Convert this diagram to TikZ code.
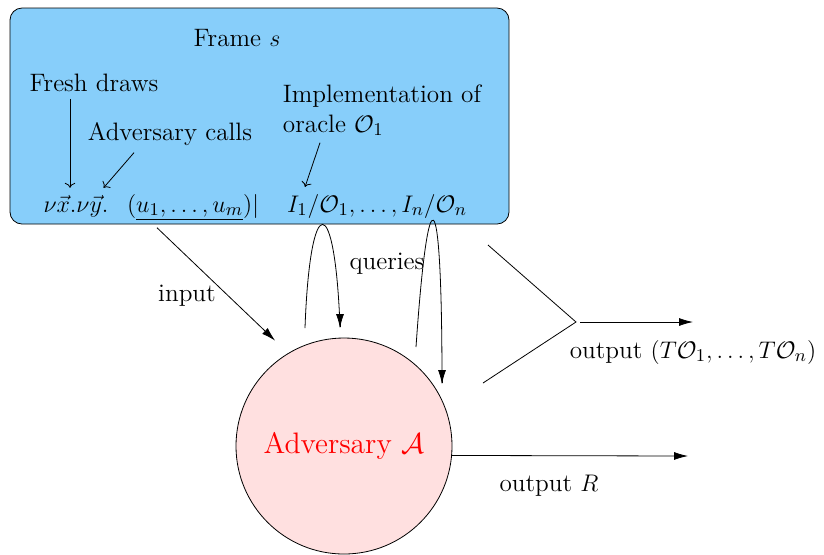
\documentclass[tikz,border=0pt]{standalone}
\usetikzlibrary{arrows.meta}
\definecolor{frameblue}{RGB}{135,206,250}
\definecolor{advpink}{RGB}{255,224,224}
\begin{document}
\begin{tikzpicture}[x=0.5pt,y=-0.5pt,font=\fontsize{12.6}{15}\selectfont,
  outarrow/.style={-{Latex[length=7pt,width=4pt]}},
  pointer/.style={->}]
\useasboundingbox (0,0) rectangle (824,554);
\draw[fill=frameblue,rounded corners=6pt] (10,8) rectangle (509,224);
\node[draw,circle,fill=advpink,minimum size=108pt,inner sep=0pt,text=red,font=\fontsize{14.8}{18}\selectfont] (adv) at (344,446) {Adversary $\mathcal{A}$};

\node (frame) at (237,38) {Frame $s$};
\node (fresh) at (94,83) {Fresh draws};
\node (calls) at (170,134) {Adversary calls};
\node[align=left] (impl) at (382,110) {Implementation of\\[0pt]oracle $\mathcal{O}_1$};

\node[anchor=base] (nu) at (76,212) {$\nu\vec{x}.\nu\vec{y}.$};
\node[anchor=base] (args) at (193,212) {$(\underline{u_1,\ldots,u_m})|$};
\node[anchor=base] (oracles) at (377,212) {$I_1/\mathcal{O}_1,\ldots,I_n/\mathcal{O}_n$};

\draw[pointer] ([xshift=-12pt]fresh.south) -- ([xshift=-3pt]nu.north);
\draw[pointer] ([xshift=-18pt]calls.south) -- ([xshift=-6pt]nu.north east);
\draw[pointer] ([xshift=-31pt]impl.south) -- ([xshift=-36pt]oracles.north);

\draw[outarrow,shorten >=9pt] ([xshift=-18pt]args.south) -- (adv.121);
\node (input) at (187,296) {input};

\coordinate (q1in) at (305,328);
\coordinate (q1out) at (340,327);
\coordinate (qnin) at (416,347);
\coordinate (qnout) at (442,383);
\draw (q1in) .. controls (310,190) and (335,190) .. (q1out);
\draw[outarrow] (q1out) -- +(0,1);
\draw (qnin) .. controls (428,172) and (442,172) .. (qnout);
\draw[outarrow] (qnout) -- +(0,1);
\node (queries) at (387,264) {queries};

\coordinate (wtop) at (488,245);
\coordinate (wedge) at (576,322);
\coordinate (wbot) at (483,383);
\coordinate (tout) at (693,322);
\draw (wtop) -- (wedge) -- (wbot);
\draw[outarrow] ([xshift=2pt]wedge) -- (tout);
\node (toutlbl) at (693,352) {output $(T\mathcal{O}_1,\ldots,T\mathcal{O}_n)$};

\coordinate (rout) at (688,456);
\draw[outarrow] (adv.-5.3) -- (rout);
\node (routlbl) at (549,486) {output $R$};
\end{tikzpicture}
\end{document}
